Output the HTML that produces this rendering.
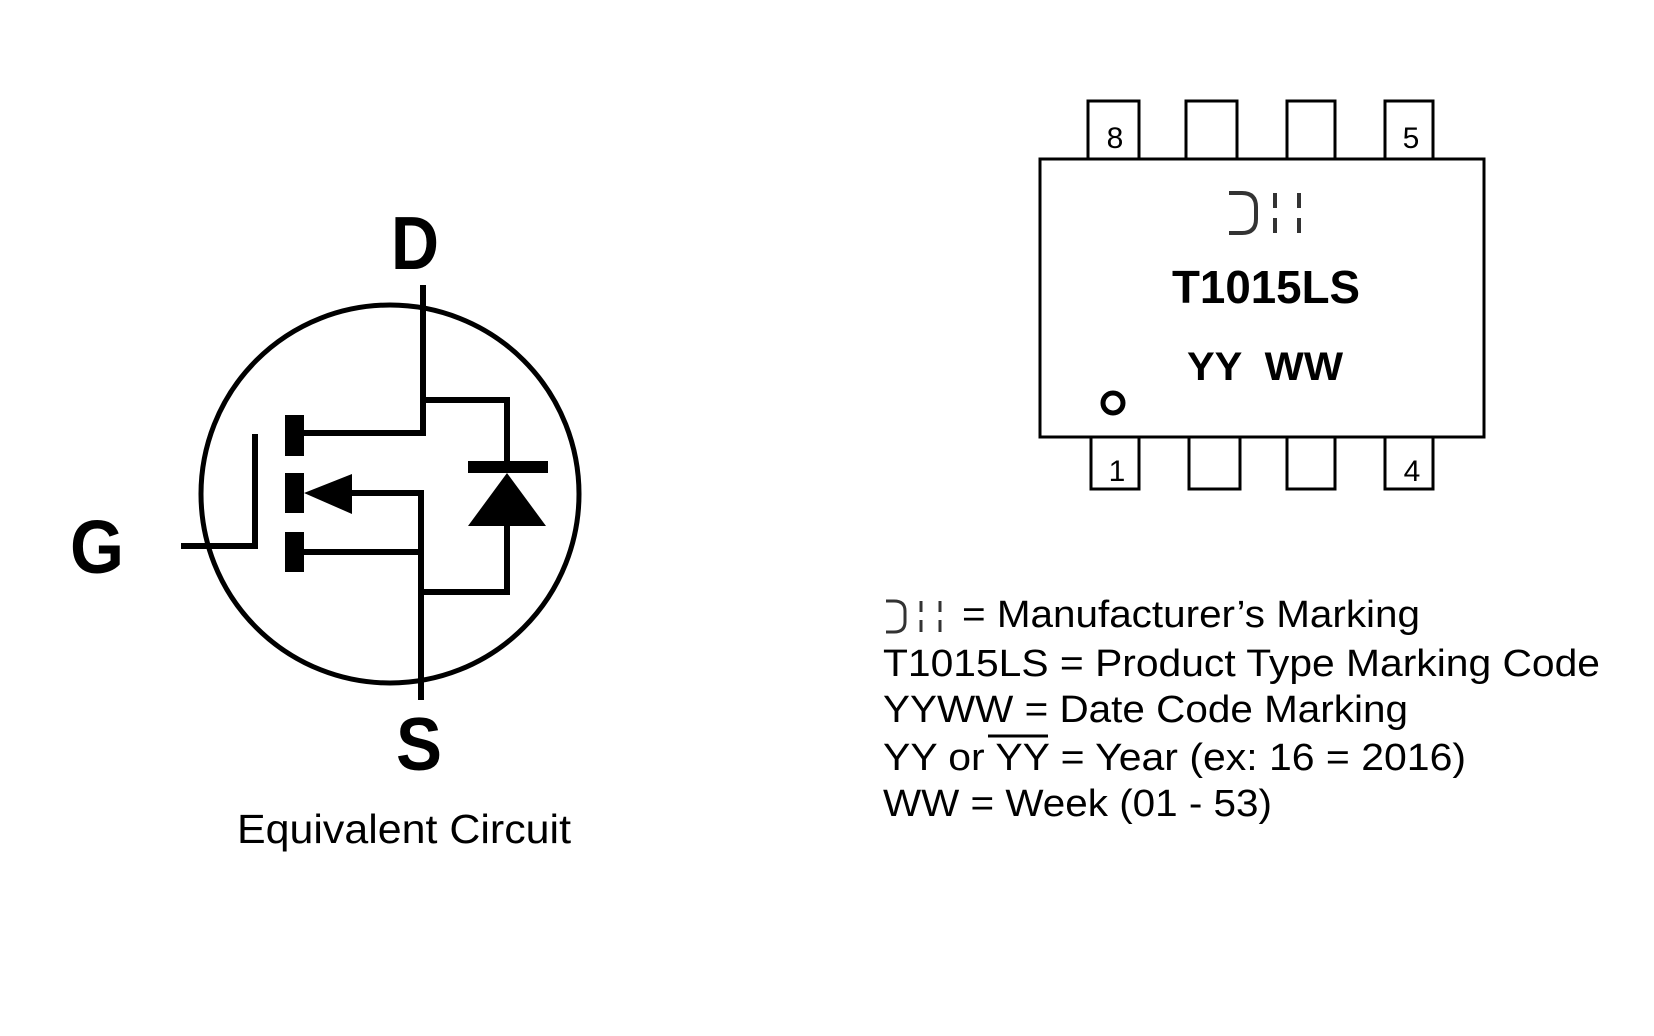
<!DOCTYPE html>
<html><head><meta charset="utf-8"><style>
html,body{margin:0;padding:0;background:#fff;width:1654px;height:1036px;overflow:hidden}
svg{display:block}
text{font-family:"Liberation Sans",Arial,sans-serif;fill:#000}
</style></head><body>
<svg width="1654" height="1036" viewBox="0 0 1654 1036" xmlns="http://www.w3.org/2000/svg">
<rect width="1654" height="1036" fill="#fff"/>
<!-- Circuit -->
<g stroke="#000" fill="none" stroke-width="6">
<circle cx="390" cy="494" r="189" stroke-width="5"/>
<polyline points="423,285 423,433 304,433"/>
<polyline points="423,400 507,400 507,462"/>
<polyline points="352,493 421,493 421,700"/>
<line x1="304" y1="552" x2="421" y2="552"/>
<polyline points="421,592 507,592 507,524"/>
<polyline points="181,546 255,546 255,434"/>
</g>
<g fill="#000">
<rect x="285" y="415" width="19" height="41"/>
<rect x="285" y="473" width="19" height="40"/>
<rect x="285" y="532" width="19" height="40"/>
<polygon points="304,493 352,474 352,514"/>
<rect x="468" y="461" width="80" height="12"/>
<polygon points="507,473 546,526 468,526"/>
</g>
<text x="391" y="269" font-size="75" font-weight="bold" textLength="48" lengthAdjust="spacingAndGlyphs">D</text>
<text x="70" y="573" font-size="75" font-weight="bold" textLength="54" lengthAdjust="spacingAndGlyphs">G</text>
<text x="396" y="770" font-size="75" font-weight="bold" textLength="46" lengthAdjust="spacingAndGlyphs">S</text>
<text x="237" y="843" font-size="41" textLength="334" lengthAdjust="spacingAndGlyphs">Equivalent Circuit</text>
<!-- Chip -->
<g stroke="#000" fill="none" stroke-width="3">
<rect x="1040" y="159" width="444" height="278"/>
<rect x="1088" y="101" width="51" height="58"/>
<rect x="1186" y="101" width="51" height="58"/>
<rect x="1287" y="101" width="48" height="58"/>
<rect x="1385" y="101" width="48" height="58"/>
<rect x="1091" y="437" width="48" height="52"/>
<rect x="1189" y="437" width="51" height="52"/>
<rect x="1287" y="437" width="48" height="52"/>
<rect x="1385" y="437" width="48" height="52"/>
<circle cx="1113" cy="403" r="10" stroke-width="5"/>
</g>
<text x="1115" y="148" font-size="30" text-anchor="middle">8</text>
<text x="1411" y="148" font-size="30" text-anchor="middle">5</text>
<text x="1117" y="481" font-size="30" text-anchor="middle">1</text>
<text x="1412" y="481" font-size="30" text-anchor="middle">4</text>
<!-- DH logo in chip -->
<g stroke="#333" fill="none" stroke-width="4">
<path d="M1229,193 H1242 Q1256,193 1256,207 V219 Q1256,233 1242,233 H1229"/>
<line x1="1275" y1="193" x2="1275" y2="208"/><line x1="1275" y1="218" x2="1275" y2="233"/>
<line x1="1299" y1="193" x2="1299" y2="208"/><line x1="1299" y1="218" x2="1299" y2="233"/>
</g>
<text x="1172" y="303" font-size="46" font-weight="bold" textLength="188" lengthAdjust="spacingAndGlyphs">T1015LS</text>
<text x="1187" y="380" font-size="40" font-weight="bold" textLength="156" lengthAdjust="spacingAndGlyphs" xml:space="preserve">YY  WW</text>
<!-- Legend -->
<g stroke="#333" fill="none" stroke-width="3">
<path d="M886,601 H894 Q905,601 905,611 V622 Q905,632 894,632 H886"/>
<line x1="921" y1="601" x2="921" y2="612"/><line x1="921" y1="620" x2="921" y2="632"/>
<line x1="940" y1="601" x2="940" y2="612"/><line x1="940" y1="620" x2="940" y2="632"/>
</g>
<text x="962" y="627" font-size="38" textLength="458" lengthAdjust="spacingAndGlyphs">= Manufacturer’s Marking</text>
<text x="883" y="676" font-size="38" textLength="717" lengthAdjust="spacingAndGlyphs">T1015LS = Product Type Marking Code</text>
<text x="883" y="722" font-size="38" textLength="525" lengthAdjust="spacingAndGlyphs">YYWW = Date Code Marking</text>
<text x="883" y="770" font-size="38" textLength="583" lengthAdjust="spacingAndGlyphs">YY or YY = Year (ex: 16 = 2016)</text>
<line x1="988" y1="736" x2="1048" y2="736" stroke="#000" stroke-width="3"/>
<text x="883" y="816" font-size="38" textLength="389" lengthAdjust="spacingAndGlyphs">WW = Week (01 - 53)</text>
</svg>
</body></html>
